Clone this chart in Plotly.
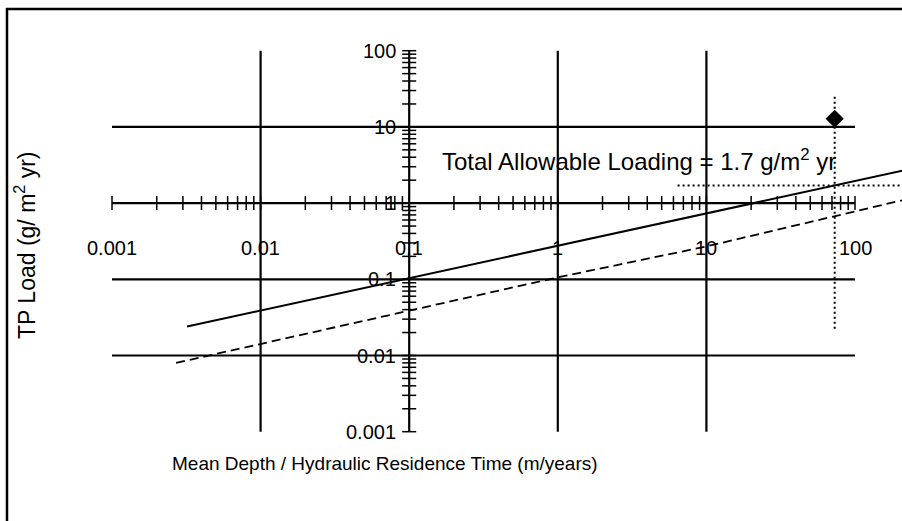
import math
import plotly.graph_objects as go

# ---------------- data ----------------
x_ticks = [0.001, 0.01, 0.1, 1, 10, 100]
x_tick_labels = ["0.001", "0.01", "0.1", "1", "10", "100"]
y_ticks = [100, 10, 1, 0.1, 0.01, 0.001]
y_tick_labels = ["100", "10", "1", "0.1", "0.01", "0.001"]

# critical (dangerous) loading line - solid
crit_x = [0.0032, 0.1, 1, 10, 73, 210]
crit_y = [0.024, 0.104, 0.276, 0.73, 1.7, 2.67]
# permissible loading line - dashed
perm_x = [0.0027, 0.1, 1, 10, 100, 210]
perm_y = [0.008, 0.0388, 0.106, 0.27, 0.79, 1.094]

# lake point
lake_x = [73]
lake_y = [12.8]
# dotted reference lines
vref_x = [73, 73]
vref_y = [0.0224, 26]
href_x = [6.4, 260]
href_y = [1.7, 1.7]

allowable = 1.7

FONT = "Arial, Liberation Sans, sans-serif"
W, H = 902, 521

# axis geometry (pixels per decade on the page)
px_per_decade_x = 148.6
px_per_decade_y = 76.2
x_left = -3 - 112 / px_per_decade_x
x_right = -3 + (W - 112) / px_per_decade_x
y_top = 2 + 50.7 / px_per_decade_y
y_bottom = 2 - (H - 50.7) / px_per_decade_y

xmin, xmax = min(x_ticks), max(x_ticks)
ymin, ymax = min(y_ticks), max(y_ticks)
x_cross, y_cross = 0.1, 1
TICK_PX = 7


def log_ticks(lo, hi):
    out = []
    d = lo
    while d < hi * 1.0001:
        for m in range(1, 10):
            v = d * m
            if v <= hi * 1.0001:
                out.append(v)
        d *= 10
    return out


fig = go.Figure()

# tick marks crossing the axes (major + minor), as line segments
fy = 10 ** (TICK_PX / px_per_decade_y)
tx, ty = [], []
for v in log_ticks(xmin, xmax):
    tx += [v, v, None]
    ty += [y_cross / fy, y_cross * fy, None]
fx = 10 ** (TICK_PX / px_per_decade_x)
for v in log_ticks(ymin, ymax):
    tx += [x_cross / fx, x_cross * fx, None]
    ty += [v, v, None]
fig.add_trace(go.Scatter(x=tx, y=ty, mode="lines", line=dict(color="black", width=1.5),
                         hoverinfo="skip", connectgaps=False))

fig.add_trace(go.Scatter(x=crit_x, y=crit_y, mode="lines",
                         line=dict(color="black", width=2), hoverinfo="skip"))
fig.add_trace(go.Scatter(x=perm_x, y=perm_y, mode="lines",
                         line=dict(color="black", width=1.8, dash="9px,5px"), hoverinfo="skip"))
fig.add_trace(go.Scatter(x=vref_x, y=vref_y, mode="lines",
                         line=dict(color="black", width=2, dash="2px,3px"), hoverinfo="skip"))
fig.add_trace(go.Scatter(x=href_x, y=href_y, mode="lines",
                         line=dict(color="black", width=2, dash="2px,3px"), hoverinfo="skip"))
fig.add_trace(go.Scatter(x=lake_x, y=lake_y, mode="markers",
                         marker=dict(symbol="diamond", size=14, color="black"), hoverinfo="skip"))

shapes = []
# gridlines (interior decades, excluding the axis and the outer limits)
for v in x_ticks:
    if v in (xmin, xmax, x_cross):
        continue
    shapes.append(dict(type="line", xref="x", yref="y", x0=v, x1=v, y0=ymin, y1=ymax,
                       line=dict(color="black", width=2.2), layer="below"))
for v in y_ticks:
    if v in (ymin, ymax, y_cross):
        continue
    shapes.append(dict(type="line", xref="x", yref="y", x0=xmin, x1=xmax, y0=v, y1=v,
                       line=dict(color="black", width=2.2), layer="below"))

# axes lines
shapes.append(dict(type="line", xref="x", yref="y", x0=xmin, x1=xmax, y0=y_cross, y1=y_cross,
                   line=dict(color="black", width=2.2), layer="below"))
shapes.append(dict(type="line", xref="x", yref="y", x0=x_cross, x1=x_cross, y0=ymin, y1=ymax,
                   line=dict(color="black", width=2.2), layer="below"))

# chart border (extends past the right/bottom edges)
shapes.append(dict(type="rect", xref="paper", yref="paper",
                   x0=7 / W, x1=1.02, y0=-0.02, y1=1 - 9 / H,
                   line=dict(color="black", width=2.5), layer="below"))

annotations = []
for v, t in zip(x_ticks, x_tick_labels):
    annotations.append(dict(x=math.log10(v), y=math.log10(y_cross), xref="x", yref="y",
                            text=t, showarrow=False, xanchor="center", yanchor="middle",
                            yshift=-45, font=dict(family=FONT, size=20, color="black")))
for v, t in zip(y_ticks, y_tick_labels):
    annotations.append(dict(x=math.log10(x_cross), y=math.log10(v), xref="x", yref="y",
                            text=t, showarrow=False, xanchor="right", yanchor="middle",
                            xshift=-11, font=dict(family=FONT, size=20, color="black")))

annotations.append(dict(x=440 / W, y=1 - 160 / H, xref="paper", yref="paper",
                        text=f"Total Allowable Loading = {allowable} g/m<sup>2</sup> yr",
                        showarrow=False, xanchor="left", yanchor="middle",
                        font=dict(family=FONT, size=24, color="black")))
annotations.append(dict(x=385 / W, y=1 - 463 / H, xref="paper", yref="paper",
                        text="Mean Depth / Hydraulic Residence Time (m/years)",
                        showarrow=False, xanchor="center", yanchor="middle",
                        font=dict(family=FONT, size=19, color="black")))
annotations.append(dict(x=25 / W, y=1 - 246 / H, xref="paper", yref="paper",
                        text="TP Load (g/ m<sup>2</sup> yr)", textangle=-90,
                        showarrow=False, xanchor="center", yanchor="middle",
                        font=dict(family=FONT, size=23, color="black")))

fig.update_layout(
    width=W, height=H,
    margin=dict(l=0, r=0, t=0, b=0),
    paper_bgcolor="white", plot_bgcolor="white",
    showlegend=False,
    shapes=shapes, annotations=annotations,
    xaxis=dict(type="log", range=[x_left, x_right], showgrid=False, zeroline=False,
               showticklabels=False, ticks="", showline=False, fixedrange=True),
    yaxis=dict(type="log", range=[y_bottom, y_top], showgrid=False, zeroline=False,
               showticklabels=False, ticks="", showline=False, fixedrange=True),
)

fig.write_html("out.html")
